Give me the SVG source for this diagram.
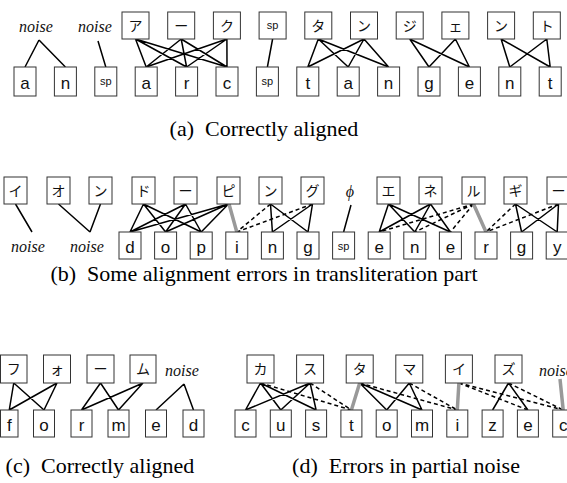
<svg xmlns="http://www.w3.org/2000/svg" width="567" height="483" viewBox="0 0 567 483">
<style>
rect{fill:#fff;stroke:#333;stroke-width:1}
.jp{font-family:"Noto Sans CJK JP",sans-serif;font-size:14px;text-anchor:middle;fill:#111}
.lt{font-family:"Liberation Sans",Arial,sans-serif;font-size:17px;text-anchor:middle;fill:#111}
.sp{font-family:"Liberation Sans",Arial,sans-serif;font-size:11px;text-anchor:middle;fill:#111}
.ns{font-family:"Liberation Serif","Times New Roman",serif;font-style:italic;font-size:16px;text-anchor:middle;fill:#111}
.cap{font-family:"Liberation Serif","Times New Roman",serif;font-size:22px;text-anchor:middle;fill:#000}
.s{stroke:#000;stroke-width:1.5;fill:none}
.d{stroke:#000;stroke-width:1.5;fill:none;stroke-dasharray:4 3}
.g{stroke:#999;stroke-width:3.5;fill:none}
</style>
<g id="connectors">
<path class="s" d="M39 40L25 67M39 40L65.4 67M98 41L105.8 67
M135.5 39L146.2 67M135.5 39L186.6 67M135.5 39L227 67
M181.2 39L146.2 67M181.2 39L186.6 67M181.2 39L227 67
M226.9 39L146.2 67M226.9 39L186.6 67M226.9 39L227 67
M272.6 39L267.4 67
M318.3 39L307.8 67M318.3 39L348.2 67M318.3 39L388.6 67
M364 39L307.8 67M364 39L348.2 67M364 39L388.6 67
M409.7 39L429 67M409.7 39L469.4 67M455.4 39L429 67M455.4 39L469.4 67
M501.1 39L509.8 67M501.1 39L550.2 67M546.8 39L509.8 67M546.8 39L550.2 67"/>
<path class="s" d="M15.5 204L32 232M58.5 204L90 232M100.5 204L90 232
M143.5 204L130 232M143.5 204L165.6 232M143.5 204L201.2 232
M185.5 204L130 232M185.5 204L165.6 232M185.5 204L201.2 232
M228.5 204L130 232M228.5 204L165.6 232M228.5 204L201.2 232
M270.5 204L272.4 232M270.5 204L308 232M312.5 204L272.4 232M312.5 204L308 232
M351 205L343.6 232
M388.5 204L379.2 232M388.5 204L414.8 232M388.5 204L450.4 232
M430.5 204L379.2 232M430.5 204L414.8 232M430.5 204L450.4 232
M515.5 204L521.6 232M515.5 204L557.2 232M558.5 204L521.6 232M558.5 204L557.2 232"/>
<path class="d" d="M270.5 204L236.8 232M312.5 204L236.8 232
M473.5 204L379.2 232M473.5 204L414.8 232M473.5 204L450.4 232
M515.5 204L486 232M558.5 204L486 232"/>
<path class="g" d="M229 204L236.8 232M473.5 204L486 232"/>
<path class="s" d="M13.75 383L9.25 410M13.75 383L44 410M57 383L9.25 410M57 383L44 410
M100.5 383L81.5 410M100.5 383L118.5 410M143 383L81.5 410M143 383L118.5 410
M184 384L156 410M184 384L193.5 410
M260.5 383L245.5 410M260.5 383L280.8 410M260.5 383L316.1 410
M310.1 383L245.5 410M310.1 383L280.8 410M310.1 383L316.1 410
M359.7 383L386.7 410M359.7 383L422 410M409.3 383L386.7 410M409.3 383L422 410
M508.5 383L492.6 410M508.5 383L527.9 410"/>
<path class="d" d="M260.5 383L351.4 410M310.1 383L351.4 410
M359.7 383L457.3 410M409.3 383L457.3 410
M458.9 383L527.9 410M458.9 383L563.2 410M508.5 383L563.2 410"/>
<path class="g" d="M359.7 383L351.4 410M458.9 383L457.3 410M560 379L563.2 410"/>
</g>
<!-- (a) -->
<g id="a_noise1"><text class="ns" x="36" y="32">noise</text></g>
<g id="a_noise2"><text class="ns" x="95" y="32">noise</text></g>
<g id="a_t1"><rect x="122" y="12" width="27" height="27"/><text class="jp" x="135.5" y="31">ア</text></g>
<g id="a_t2"><rect x="167.7" y="12" width="27" height="27"/><text class="jp" x="181.2" y="31">ー</text></g>
<g id="a_t3"><rect x="213.4" y="12" width="27" height="27"/><text class="jp" x="226.9" y="31">ク</text></g>
<g id="a_t4"><rect x="259.1" y="12" width="27" height="27"/><text class="sp" x="272.6" y="29">sp</text></g>
<g id="a_t5"><rect x="304.8" y="12" width="27" height="27"/><text class="jp" x="318.3" y="31">タ</text></g>
<g id="a_t6"><rect x="350.5" y="12" width="27" height="27"/><text class="jp" x="364" y="31">ン</text></g>
<g id="a_t7"><rect x="396.2" y="12" width="27" height="27"/><text class="jp" x="409.7" y="31">ジ</text></g>
<g id="a_t8"><rect x="441.9" y="12" width="27" height="27"/><text class="jp" x="455.4" y="31">ェ</text></g>
<g id="a_t9"><rect x="487.6" y="12" width="27" height="27"/><text class="jp" x="501.1" y="31">ン</text></g>
<g id="a_t10"><rect x="533.3" y="12" width="27" height="27"/><text class="jp" x="546.8" y="31">ト</text></g>
<g id="a_b1"><rect x="14" y="67" width="22" height="29"/><text class="lt" x="25" y="89">a</text></g>
<g id="a_b2"><rect x="54.4" y="67" width="22" height="29"/><text class="lt" x="65.4" y="89">n</text></g>
<g id="a_b3"><rect x="94.8" y="67" width="22" height="29"/><text class="sp" x="105.8" y="85">sp</text></g>
<g id="a_b4"><rect x="135.2" y="67" width="22" height="29"/><text class="lt" x="146.2" y="89">a</text></g>
<g id="a_b5"><rect x="175.6" y="67" width="22" height="29"/><text class="lt" x="186.6" y="89">r</text></g>
<g id="a_b6"><rect x="216" y="67" width="22" height="29"/><text class="lt" x="227" y="89">c</text></g>
<g id="a_b7"><rect x="256.4" y="67" width="22" height="29"/><text class="sp" x="267.4" y="85">sp</text></g>
<g id="a_b8"><rect x="296.8" y="67" width="22" height="29"/><text class="lt" x="307.8" y="89">t</text></g>
<g id="a_b9"><rect x="337.2" y="67" width="22" height="29"/><text class="lt" x="348.2" y="89">a</text></g>
<g id="a_b10"><rect x="377.6" y="67" width="22" height="29"/><text class="lt" x="388.6" y="89">n</text></g>
<g id="a_b11"><rect x="418" y="67" width="22" height="29"/><text class="lt" x="429" y="89">g</text></g>
<g id="a_b12"><rect x="458.4" y="67" width="22" height="29"/><text class="lt" x="469.4" y="89">e</text></g>
<g id="a_b13"><rect x="498.8" y="67" width="22" height="29"/><text class="lt" x="509.8" y="89">n</text></g>
<g id="a_b14"><rect x="539.2" y="67" width="22" height="29"/><text class="lt" x="550.2" y="89">t</text></g>
<text class="cap" x="264" y="136" xml:space="preserve">(a)  Correctly aligned</text>
<!-- (b) -->
<g id="b_t1"><rect x="4" y="177" width="23" height="27"/><text class="jp" x="15.5" y="196">イ</text></g>
<g id="b_t2"><rect x="47" y="177" width="23" height="27"/><text class="jp" x="58.5" y="196">オ</text></g>
<g id="b_t3"><rect x="89" y="177" width="23" height="27"/><text class="jp" x="100.5" y="196">ン</text></g>
<g id="b_t4"><rect x="132" y="177" width="23" height="27"/><text class="jp" x="143.5" y="196">ド</text></g>
<g id="b_t5"><rect x="174" y="177" width="23" height="27"/><text class="jp" x="185.5" y="196">ー</text></g>
<g id="b_t6"><rect x="217" y="177" width="23" height="27"/><text class="jp" x="228.5" y="196">ピ</text></g>
<g id="b_t7"><rect x="259" y="177" width="23" height="27"/><text class="jp" x="270.5" y="196">ン</text></g>
<g id="b_t8"><rect x="301" y="177" width="23" height="27"/><text class="jp" x="312.5" y="196">グ</text></g>
<g id="b_phi"><text class="ns" x="350" y="197">ϕ</text></g>
<g id="b_t9"><rect x="377" y="177" width="23" height="27"/><text class="jp" x="388.5" y="196">エ</text></g>
<g id="b_t10"><rect x="419" y="177" width="23" height="27"/><text class="jp" x="430.5" y="196">ネ</text></g>
<g id="b_t11"><rect x="462" y="177" width="23" height="27"/><text class="jp" x="473.5" y="196">ル</text></g>
<g id="b_t12"><rect x="504" y="177" width="23" height="27"/><text class="jp" x="515.5" y="196">ギ</text></g>
<g id="b_t13"><rect x="547" y="177" width="23" height="27"/><text class="jp" x="558.5" y="196">ー</text></g>
<g id="b_noise1"><text class="ns" x="28" y="252">noise</text></g>
<g id="b_noise2"><text class="ns" x="87" y="252">noise</text></g>
<g id="b_b1"><rect x="119" y="232" width="22" height="27"/><text class="lt" x="130" y="253">d</text></g>
<g id="b_b2"><rect x="154.6" y="232" width="22" height="27"/><text class="lt" x="165.6" y="253">o</text></g>
<g id="b_b3"><rect x="190.2" y="232" width="22" height="27"/><text class="lt" x="201.2" y="253">p</text></g>
<g id="b_b4"><rect x="225.8" y="232" width="22" height="27"/><text class="lt" x="236.8" y="253">i</text></g>
<g id="b_b5"><rect x="261.4" y="232" width="22" height="27"/><text class="lt" x="272.4" y="253">n</text></g>
<g id="b_b6"><rect x="297" y="232" width="22" height="27"/><text class="lt" x="308" y="253">g</text></g>
<g id="b_b7"><rect x="332.6" y="232" width="22" height="27"/><text class="sp" x="343.6" y="250">sp</text></g>
<g id="b_b8"><rect x="368.2" y="232" width="22" height="27"/><text class="lt" x="379.2" y="253">e</text></g>
<g id="b_b9"><rect x="403.8" y="232" width="22" height="27"/><text class="lt" x="414.8" y="253">n</text></g>
<g id="b_b10"><rect x="439.4" y="232" width="22" height="27"/><text class="lt" x="450.4" y="253">e</text></g>
<g id="b_b11"><rect x="475" y="232" width="22" height="27"/><text class="lt" x="486" y="253">r</text></g>
<g id="b_b12"><rect x="510.6" y="232" width="22" height="27"/><text class="lt" x="521.6" y="253">g</text></g>
<g id="b_b13"><rect x="546.2" y="232" width="22" height="27"/><text class="lt" x="557.2" y="253">y</text></g>
<text class="cap" x="264" y="281" xml:space="preserve">(b)  Some alignment errors in transliteration part</text>
<!-- (c) -->
<g id="c_t1"><rect x="0.5" y="355" width="26.5" height="28"/><text class="jp" x="13.75" y="374">フ</text></g>
<g id="c_t2"><rect x="43.5" y="355" width="27" height="28"/><text class="jp" x="57" y="374">ォ</text></g>
<g id="c_t3"><rect x="87" y="355" width="27" height="28"/><text class="jp" x="100.5" y="374">ー</text></g>
<g id="c_t4"><rect x="130" y="355" width="26" height="28"/><text class="jp" x="143" y="374">ム</text></g>
<g id="c_noise"><text class="ns" x="182" y="376">noise</text></g>
<g id="c_b1"><rect x="0.5" y="410" width="17.5" height="27"/><text class="lt" x="9.25" y="431">f</text></g>
<g id="c_b2"><rect x="33.5" y="410" width="21" height="27"/><text class="lt" x="44" y="431">o</text></g>
<g id="c_b3"><rect x="71" y="410" width="21" height="27"/><text class="lt" x="81.5" y="431">r</text></g>
<g id="c_b4"><rect x="108" y="410" width="21" height="27"/><text class="lt" x="118.5" y="431">m</text></g>
<g id="c_b5"><rect x="145.5" y="410" width="21" height="27"/><text class="lt" x="156" y="431">e</text></g>
<g id="c_b6"><rect x="183" y="410" width="21" height="27"/><text class="lt" x="193.5" y="431">d</text></g>
<text class="cap" x="100" y="473" xml:space="preserve">(c)  Correctly aligned</text>
<!-- (d) -->
<g id="d_t1"><rect x="247" y="355" width="27" height="28"/><text class="jp" x="260.5" y="374">カ</text></g>
<g id="d_t2"><rect x="296.6" y="355" width="27" height="28"/><text class="jp" x="310.1" y="374">ス</text></g>
<g id="d_t3"><rect x="346.2" y="355" width="27" height="28"/><text class="jp" x="359.7" y="374">タ</text></g>
<g id="d_t4"><rect x="395.8" y="355" width="27" height="28"/><text class="jp" x="409.3" y="374">マ</text></g>
<g id="d_t5"><rect x="445.4" y="355" width="27" height="28"/><text class="jp" x="458.9" y="374">イ</text></g>
<g id="d_t6"><rect x="495" y="355" width="27" height="28"/><text class="jp" x="508.5" y="374">ズ</text></g>
<g id="d_noise"><text class="ns" x="539" y="376" style="text-anchor:start">noise</text></g>
<g id="d_b1"><rect x="235" y="410" width="21" height="27"/><text class="lt" x="245.5" y="431">c</text></g>
<g id="d_b2"><rect x="270.3" y="410" width="21" height="27"/><text class="lt" x="280.8" y="431">u</text></g>
<g id="d_b3"><rect x="305.6" y="410" width="21" height="27"/><text class="lt" x="316.1" y="431">s</text></g>
<g id="d_b4"><rect x="340.9" y="410" width="21" height="27"/><text class="lt" x="351.4" y="431">t</text></g>
<g id="d_b5"><rect x="376.2" y="410" width="21" height="27"/><text class="lt" x="386.7" y="431">o</text></g>
<g id="d_b6"><rect x="411.5" y="410" width="21" height="27"/><text class="lt" x="422" y="431">m</text></g>
<g id="d_b7"><rect x="446.8" y="410" width="21" height="27"/><text class="lt" x="457.3" y="431">i</text></g>
<g id="d_b8"><rect x="482.1" y="410" width="21" height="27"/><text class="lt" x="492.6" y="431">z</text></g>
<g id="d_b9"><rect x="517.4" y="410" width="21" height="27"/><text class="lt" x="527.9" y="431">e</text></g>
<g id="d_b10"><rect x="552.7" y="410" width="21" height="27"/><text class="lt" x="563.2" y="431">c</text></g>
<text class="cap" x="406" y="473" xml:space="preserve">(d)  Errors in partial noise</text>
</svg>
